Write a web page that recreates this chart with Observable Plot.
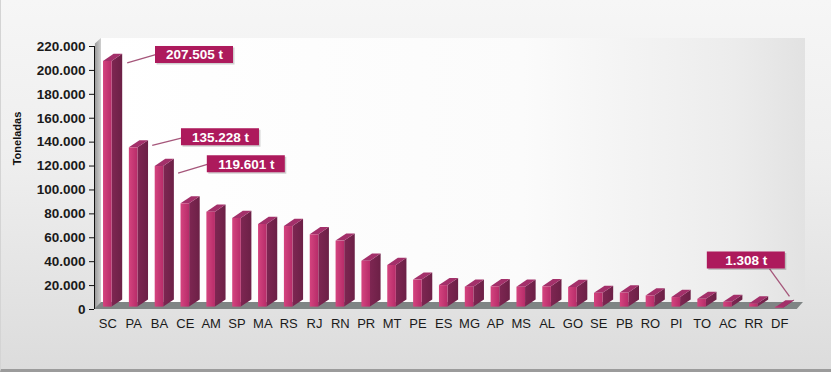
<!DOCTYPE html>
<html><head><meta charset="utf-8">
<script src="https://cdn.jsdelivr.net/npm/d3@7"></script>
<script src="https://cdn.jsdelivr.net/npm/@observablehq/plot@0.6"></script>
<style>
html,body{margin:0;padding:0;width:831px;height:374px;overflow:hidden;background:#fff;}
#bg{position:absolute;left:0;top:0;width:830px;height:369px;background:linear-gradient(180deg,#f6f6f6 0%,#eeeeee 45%,#dcdcdc 100%);border-bottom:3px solid #9b9b9b;border-left:1px solid #d4d4d4;}
#chart{position:absolute;left:0;top:0;}
</style></head><body><div id="bg"></div><div id="chart"></div>
<script>
// ---- data ----
const states = ["SC","PA","BA","CE","AM","SP","MA","RS","RJ","RN","PR","MT","PE","ES","MG","AP","MS","AL","GO","SE","PB","RO","PI","TO","AC","RR","DF"];
const tons = [207505,135228,119601,88400,81400,76200,71100,69400,62500,57200,40400,36800,24600,20000,18700,19000,18600,19000,18400,13500,13800,11300,10000,8500,6000,4700,1308];
const yTicks = [0,20000,40000,60000,80000,100000,120000,140000,160000,180000,200000,220000];
const yLabel = "Toneladas";
// callouts (positions in category index units / tons)
const calloutLabels = ["207.505 t","135.228 t","119.601 t","1.308 t"];
const calloutBoxX = [3.355, 4.36, 5.36, 24.71];
const calloutBoxY = [212900, 144100, 121500, 41000];
const calloutFromX = [0.75, 1.72, 2.72, 25.61];
const calloutFromY = [206400, 137200, 114000, 34000];
const calloutToX = [1.85, 2.88, 3.85, 26.38];
const calloutToY = [213300, 143600, 121300, 10900];

// ---- 3D geometry (in scale units) ----
const FH = 0.166, DX = 0.41, DY = 6000, BASE = 2000;
const bars = states.map((s, i) => ({s, i, v: tons[i]}));
const sides = bars.flatMap(d => [
  {s: d.s, x: d.i + FH, y1: BASE, y2: d.v},
  {s: d.s, x: d.i + FH + DX, y1: BASE + DY, y2: d.v + DY}
]);
const tops = bars.flatMap(d => [
  {s: d.s, y: d.v, x1: d.i - FH, x2: d.i + FH},
  {s: d.s, y: d.v + DY, x1: d.i - FH + DX, x2: d.i + FH + DX}
]);
const callouts = calloutLabels.map((label, k) => ({
  label, bx: calloutBoxX[k], by: calloutBoxY[k],
  x1: calloutFromX[k], y1: calloutFromY[k], x2: calloutToX[k], y2: calloutToY[k]
}));
const fmt = d => d === 0 ? "0" : d3.format(",")(d).replace(/,/g, ".");
const font = "'Liberation Sans', Arial, sans-serif";

const svg = Plot.plot({
  width: 831, height: 374,
  marginLeft: 94, marginRight: 26, marginTop: 46, marginBottom: 65,
  style: {background: "transparent", fontFamily: font, overflow: "visible"},
  x: {domain: [-0.515, 27], axis: null},
  y: {domain: [0, 220000], axis: null},
  marks: [
    // back wall
    Plot.rect([0], {x1: -0.245, x2: 27, y1: DY - 100, y2: 226700, fill: "url(#gWall)"}),
    // left wall
    Plot.areaY([{x: -0.48, y1: 0, y2: 222000}, {x: -0.245, y1: DY - 100, y2: 226700}],
      {x: "x", y1: "y1", y2: "y2", fill: "url(#gLeft)"}),
    // floor
    Plot.areaX([{y: 0, x1: -0.515, x2: 26.68}, {y: DY - 100, x1: -0.245, x2: 26.92}],
      {y: "y", x1: "x1", x2: "x2", fill: "#7f8484"}),
    // bars
    Plot.areaY(sides, {x: "x", y1: "y1", y2: "y2", z: "s", fill: "url(#gSide)"}),
    Plot.areaX(tops, {y: "y", x1: "x1", x2: "x2", z: "s", fill: "#a3306a"}),
    Plot.rect(bars, {x1: d => d.i - FH, x2: d => d.i + FH, y1: BASE, y2: "v", fill: "url(#gFront)"}),
    // axes
    Plot.ruleX([-0.515], {y1: 0, y2: 220000, stroke: "#111", strokeWidth: 1}),
    Plot.axisY({ticks: yTicks, tickFormat: fmt, tickSize: 5, tickPadding: 4, fontSize: 13.5, fontWeight: "bold", label: null, stroke: "#111", color: "#1a1a1a"}),
    Plot.axisX({ticks: d3.range(states.length), tickFormat: i => states[i], tickSize: 0, tickPadding: 9, fontSize: 13, label: null, color: "#1a1a1a"}),
    Plot.text([yLabel], {frameAnchor: "left", textAnchor: "middle", dx: -77, dy: -39.5, rotate: -90, fontWeight: "bold", fontSize: 11, fill: "#111"}),
    // callouts
    Plot.link(callouts, {x1: "x1", y1: "y1", x2: "x2", y2: "y2", stroke: "#a5567a", strokeWidth: 1.3}),
    Plot.rect(callouts, {x1: "bx", x2: "bx", y1: "by", y2: "by", insetLeft: -39, insetRight: -39, insetTop: -8.5, insetBottom: -8.5, dx: 1.5, dy: 1.5, fill: "#000", fillOpacity: 0.18}),
    Plot.rect(callouts, {x1: "bx", x2: "bx", y1: "by", y2: "by", insetLeft: -39, insetRight: -39, insetTop: -8.5, insetBottom: -8.5, fill: "#ad1a5c"}),
    Plot.text(callouts, {x: "bx", y: "by", text: "label", fill: "white", fontWeight: "bold", fontSize: 13.5})
  ]
});
const defs = document.createElementNS("http://www.w3.org/2000/svg", "defs");
defs.innerHTML = `
<linearGradient id="gWall" x1="0" x2="1" y1="0" y2="0">
  <stop offset="0" stop-color="#ffffff"/><stop offset="0.6" stop-color="#fbfbfb"/><stop offset="0.9" stop-color="#ececec"/><stop offset="1" stop-color="#e2e2e2"/>
</linearGradient>
<linearGradient id="gLeft" x1="0" x2="1" y1="0" y2="0">
  <stop offset="0" stop-color="#9a9a9a"/><stop offset="1" stop-color="#cfcfcf"/>
</linearGradient>
<linearGradient id="gFront" x1="0" x2="1" y1="0" y2="0">
  <stop offset="0" stop-color="#d4447f"/><stop offset="1" stop-color="#b72c69"/>
</linearGradient>
<linearGradient id="gSide" x1="0" x2="1" y1="0" y2="0">
  <stop offset="0" stop-color="#7e2652"/><stop offset="1" stop-color="#6c2046"/>
</linearGradient>`;
svg.insertBefore(defs, svg.firstChild);
document.getElementById("chart").appendChild(svg);
</script>
</body></html>
